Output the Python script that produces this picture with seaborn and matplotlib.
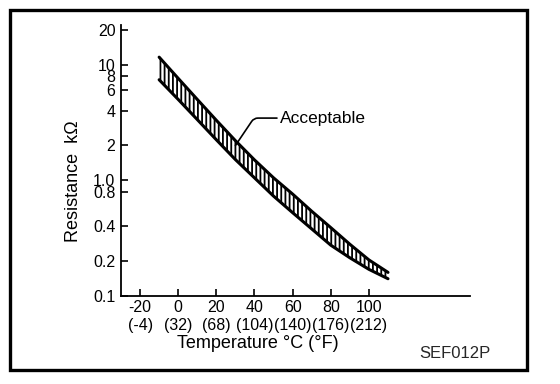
import numpy as np
import matplotlib
matplotlib.use("Agg")
import matplotlib.pyplot as plt
import seaborn as sns
from matplotlib.patches import Rectangle

# Acceptable resistance band
temp_c = [-10, 0, 10, 20, 30, 40, 50, 60, 70, 80, 90, 100, 110]
upper_kohm = [11.6, 7.6, 5.0, 3.3, 2.2, 1.5, 1.05, 0.76, 0.54, 0.39, 0.28, 0.205, 0.16]
lower_kohm = [7.4, 5.0, 3.35, 2.24, 1.51, 1.05, 0.73, 0.525, 0.38, 0.275, 0.214, 0.17, 0.141]

x_ticks = [-20, 0, 20, 40, 60, 80, 100]
x_tick_labels = ["-20\n(-4)", "0\n(32)", "20\n(68)", "40\n(104)", "60\n(140)", "80\n(176)", "100\n(212)"]
y_ticks = [0.1, 0.2, 0.4, 0.8, 1.0, 2, 4, 6, 8, 10, 20]
y_tick_labels = ["0.1", "0.2", "0.4", "0.8", "1.0", "2", "4", "6", "8", "10", "20"]

sns.set_theme(style="white")
plt.rcParams["font.family"] = ["Liberation Sans", "DejaVu Sans"]
plt.rcParams["hatch.linewidth"] = 1.3
plt.rcParams["hatch.color"] = "black"

fig = plt.figure(figsize=(5.6, 3.84), dpi=100)
ax = fig.add_axes([121 / 560, 1 - 296 / 384, 349 / 560, 271 / 384])

# band with vertical hatching
ax.fill_between(temp_c, lower_kohm, upper_kohm, facecolor="white",
                edgecolor="black", hatch="||||", linewidth=0)
sns.lineplot(x=temp_c, y=upper_kohm, color="black", lw=2.2, ax=ax)
sns.lineplot(x=temp_c, y=lower_kohm, color="black", lw=2.2, ax=ax)

ax.set_yscale("log")
ax.set_xlim(-30, 153)
ax.set_ylim(0.1, 22)
ax.set_xticks(x_ticks)
ax.set_xticklabels(x_tick_labels)
ax.set_yticks(y_ticks)
ax.set_yticklabels(y_tick_labels)
ax.minorticks_off()
ax.tick_params(axis="both", direction="in", length=5, width=1.2, colors="black",
               labelsize=11.5, left=True, bottom=True)
ax.tick_params(axis="x", pad=3)
ax.tick_params(axis="y", pad=4)

for side in ["top", "right"]:
    ax.spines[side].set_visible(False)
for side in ["left", "bottom"]:
    ax.spines[side].set_color("black")
    ax.spines[side].set_linewidth(1.3)

ax.set_xlabel("Temperature °C (°F)", fontsize=13, color="black")
ax.xaxis.label.set_va("center")
ax.xaxis.set_label_coords((258 - 121) / 349, (296 - 344) / 271)
ax.set_ylabel("Resistance  kΩ", fontsize=13, color="black")
ax.yaxis.label.set_va("center")
ax.yaxis.set_label_coords((73 - 121) / 349, (296 - 181) / 271)

ax.annotate("Acceptable", xy=(30, 2.0), xytext=(53.5, 3.45), fontsize=12.5,
            ha="left", va="center", color="black",
            arrowprops=dict(arrowstyle="-", color="black", lw=1.2,
                            connectionstyle="angle,angleA=0,angleB=56,rad=4",
                            relpos=(0, 0.5), shrinkA=0, shrinkB=0))

fig.text(455 / 560, 1 - 354 / 384, "SEF012P", fontsize=12, ha="center", va="center")

# frame around the figure
fig.patches.append(Rectangle((10 / 560, 1 - 370 / 384), 517 / 560, 360 / 384,
                             transform=fig.transFigure, fill=False,
                             edgecolor="black", linewidth=2.4))

fig.savefig("out.png", dpi=100)
